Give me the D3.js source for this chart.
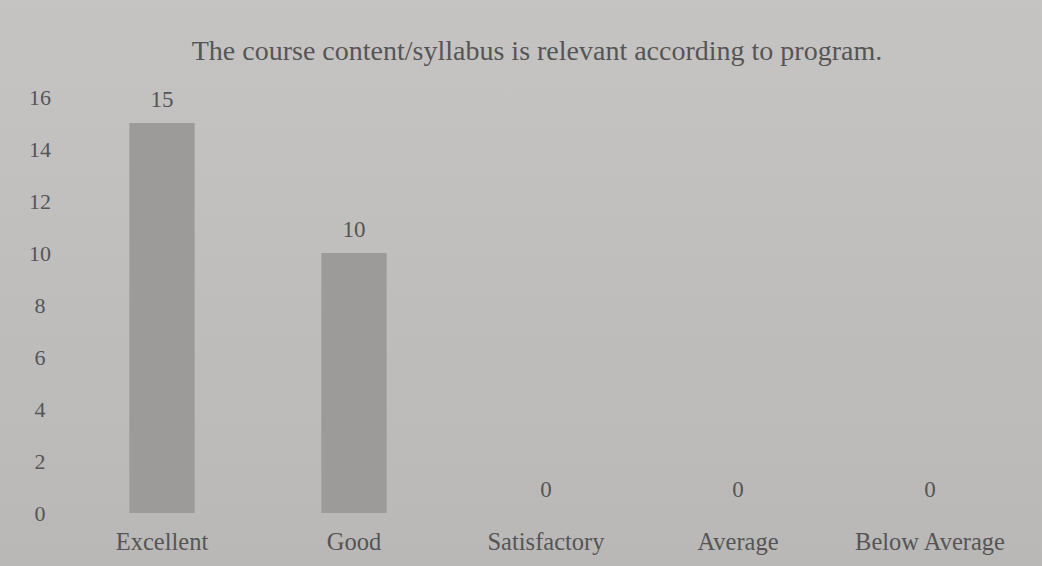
<!DOCTYPE html>
<html lang="en">
<head>
  <meta charset="UTF-8">
  <title>Course content relevance</title>
  <style>
    body { margin: 0; background: #c0bebd; }
    svg { display: block; }
  </style>
</head>
<body>
<svg id="chart" width="1042" height="566"></svg>
<script src="https://d3js.org/d3.v7.min.js"></script>
<script>
  // values
  const categories = ["Excellent", "Good", "Satisfactory", "Average", "Below Average"];
  const counts = [15, 10, 0, 0, 0];
  const yTicks = [0, 2, 4, 6, 8, 10, 12, 14, 16];
  const title = "The course content/syllabus is relevant according to program.";

  const svg = d3.select("#chart"),
    width = +svg.attr("width"),
    height = +svg.attr("height"),
    font = "'Liberation Serif', 'Times New Roman', serif",
    ink = "#555";

  const x = d3.scaleBand()
    .domain(categories)
    .range([66, 1026])
    .paddingInner(0.66)
    .paddingOuter(0.33);

  const y = d3.scaleLinear()
    .domain([0, 16])
    .range([513, 97]);

  // background wash, a bit lighter at the top like the photo
  const grad = svg.append("defs").append("linearGradient")
    .attr("id", "bg").attr("x1", 0).attr("y1", 0).attr("x2", 0).attr("y2", 1);
  grad.append("stop").attr("offset", "0%").attr("stop-color", "#c6c4c3");
  grad.append("stop").attr("offset", "100%").attr("stop-color", "#bab8b7");
  svg.append("rect").attr("width", width).attr("height", height).attr("fill", "url(#bg)");

  svg.append("text")
    .attr("x", 537).attr("y", 60)
    .attr("text-anchor", "middle")
    .attr("font-family", font).attr("font-size", 28)
    .attr("fill", ink)
    .text(title);

  // y axis: labels only, centred in their column, no line or ticks
  const yAxis = svg.append("g")
    .attr("transform", "translate(40,0)")
    .call(d3.axisLeft(y).tickValues(yTicks).tickSize(0).tickPadding(0));
  yAxis.select(".domain").remove();
  yAxis.selectAll("text")
    .attr("text-anchor", "middle")
    .attr("font-family", font).attr("font-size", 22)
    .attr("fill", ink);

  // x axis: category names under the bars
  const xAxis = svg.append("g")
    .attr("transform", "translate(0,533)")
    .call(d3.axisBottom(x).tickSize(0).tickPadding(0));
  xAxis.select(".domain").remove();
  xAxis.selectAll("text")
    .attr("font-family", font).attr("font-size", 24.5)
    .attr("fill", ink);

  svg.selectAll(".bar")
    .data(counts)
    .join("rect")
    .attr("class", "bar")
    .attr("x", (d, i) => x(categories[i]))
    .attr("y", d => y(d))
    .attr("width", x.bandwidth())
    .attr("height", d => y(0) - y(d))
    .attr("fill", "#9c9b9a");

  svg.selectAll(".val")
    .data(counts)
    .join("text")
    .attr("class", "val")
    .attr("x", (d, i) => x(categories[i]) + x.bandwidth() / 2)
    .attr("y", d => y(d) - 16)
    .attr("text-anchor", "middle")
    .attr("font-family", font).attr("font-size", 23)
    .attr("fill", ink)
    .text(d => d);
</script>
</body>
</html>
